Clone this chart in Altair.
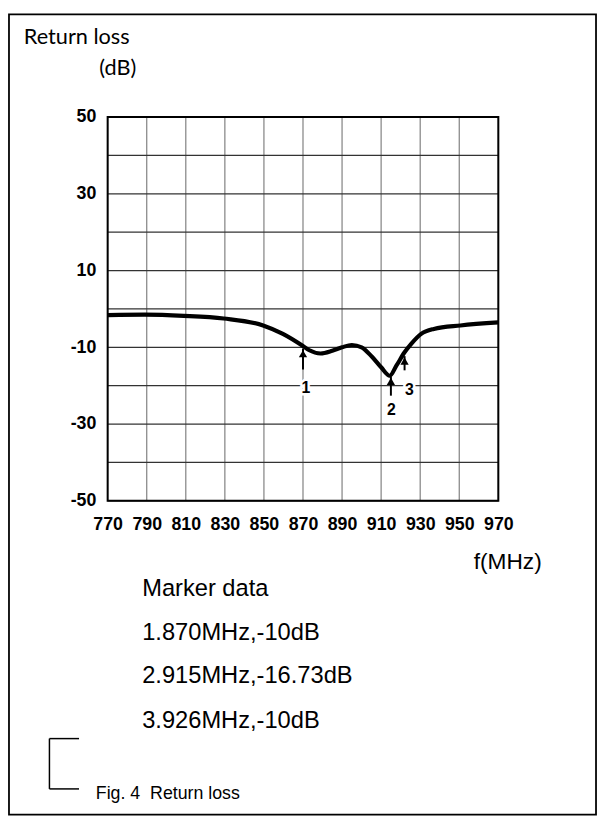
import altair as alt
import pandas as pd

# ---- data ----
freq_mhz = [770, 789, 809, 829.4, 849.6, 859.7, 869.8, 873, 879, 885, 890, 895,
            900, 905.2, 910, 914.4, 917.8, 922, 925.4, 930.5, 937, 950.6, 970]
return_loss_db = [-1.6, -1.5, -1.8, -2.5, -4.3, -6.5, -9.6, -10.7, -11.6, -10.9, -10.0, -9.4,
                  -10.0, -12.4, -15.2, -17.4, -14.8, -11.3, -9.1, -6.5, -5.2, -4.3, -3.5]

marker_freq = [870, 915, 922]
marker_tip = [-10.4, -17.6, -12.3]
marker_tail = [-15.8, -22.6, -16.0]
marker_label = ["1", "2", "3"]
label_freq = [871.5, 915.3, 924.5]
label_db = [-20.7, -26.3, -21.2]

x_ticks = [770, 790, 810, 830, 850, 870, 890, 910, 930, 950, 970]
y_ticks = [-50, -40, -30, -20, -10, 0, 10, 20, 30, 40, 50]

y_title_lines = ["Return loss", "(dB)"]
x_title = "f(MHz)"
marker_lines = ["Marker data", "1.870MHz,-10dB", "2.915MHz,-16.73dB", "3.926MHz,-10dB"]
caption = "Fig. 4\u00a0 Return loss"

W, H = 396, 389
SANS = "Liberation Sans"

curve_df = pd.DataFrame({"f": freq_mhz, "rl": return_loss_db})
mk_df = pd.DataFrame({"f": marker_freq, "tip": marker_tip, "tail": marker_tail})
lab_df = pd.DataFrame({"f": label_freq, "db": label_db, "t": marker_label})
xg_df = pd.DataFrame({"f": x_ticks})
yg_df = pd.DataFrame({"db": y_ticks})

xscale = alt.Scale(domain=[770, 970], nice=False, zero=False)
yscale = alt.Scale(domain=[-50, 50], nice=False, zero=False)

xaxis = alt.Axis(values=x_ticks, tickCount=30, title=None, grid=False, ticks=False, domain=False,
                 labelFont=SANS, labelFontWeight="bold", labelOverlap=False,
                 labelFontSize=18, labelColor="black", labelPadding=15, labelFlush=False,
                 labelExpr="toString(datum.value)")
yaxis = alt.Axis(values=y_ticks, tickCount=30, title=None, grid=False, ticks=False, domain=False,
                 labelFont=SANS, labelFontWeight="bold", labelOverlap=False,
                 labelFontSize=18, labelColor="black", labelPadding=12, labelFlush=False,
                 labelExpr="abs(datum.value) % 20 == 10 ? toString(datum.value) : ''")

vgrid = alt.Chart(xg_df).mark_rule(color="#8a8a8a", strokeWidth=1.3).encode(
    x=alt.X("f:Q", scale=xscale, axis=xaxis))
hgrid = alt.Chart(yg_df).mark_rule(color="#333333", strokeWidth=1.3).encode(
    y=alt.Y("db:Q", scale=yscale, axis=yaxis))

curve = alt.Chart(curve_df).mark_line(color="black", strokeWidth=4.2, interpolate="monotone").encode(
    x=alt.X("f:Q", scale=xscale), y=alt.Y("rl:Q", scale=yscale))

arrow_shaft = alt.Chart(mk_df).mark_rule(color="black", strokeWidth=2).encode(
    x=alt.X("f:Q", scale=xscale), y=alt.Y("tail:Q", scale=yscale), y2="tip:Q")
arrow_head = alt.Chart(mk_df).mark_point(shape="triangle-up", filled=True, color="black",
                                          size=70, opacity=1, yOffset=5).encode(
    x=alt.X("f:Q", scale=xscale), y=alt.Y("tip:Q", scale=yscale))

lab_halo = alt.Chart(lab_df).mark_text(font=SANS, fontWeight="bold", fontSize=16, stroke="white",
                                        strokeWidth=5, color="white").encode(
    x=alt.X("f:Q", scale=xscale), y=alt.Y("db:Q", scale=yscale), text="t:N")
lab_text = alt.Chart(lab_df).mark_text(font=SANS, fontWeight="bold", fontSize=16, color="black").encode(
    x=alt.X("f:Q", scale=xscale), y=alt.Y("db:Q", scale=yscale), text="t:N")


def label(text, x, y, size, font=SANS, align="left", weight="normal"):
    return alt.Chart(pd.DataFrame({"t": [text]})).mark_text(
        font=font, fontSize=size, align=align, baseline="middle", color="black", fontWeight=weight
    ).encode(x=alt.value(x), y=alt.value(y), text="t:N")


one = pd.DataFrame({"k": [0]})

frame = alt.Chart(one).mark_rect(fillOpacity=0, stroke="black", strokeWidth=1.8).encode(
    x=alt.value(-100), x2=alt.value(495), y=alt.value(-104), y2=alt.value(707))
plot_border = alt.Chart(one).mark_rect(fillOpacity=0, stroke="black", strokeWidth=2).encode(
    x=alt.value(0), x2=alt.value(W), y=alt.value(0), y2=alt.value(H))

br_v = alt.Chart(one).mark_rule(color="black", strokeWidth=1.5).encode(
    x=alt.value(-59), y=alt.value(630), y2=alt.value(681))
br_t = alt.Chart(one).mark_rule(color="black", strokeWidth=1.5).encode(
    x=alt.value(-59), x2=alt.value(-29), y=alt.value(630))
br_b = alt.Chart(one).mark_rule(color="black", strokeWidth=1.5).encode(
    x=alt.value(-59), x2=alt.value(-29), y=alt.value(681))

texts = [
    label(y_title_lines[0], -85, -81, 22, font="Lato"),
    label(y_title_lines[1], 29, -50, 22, font="Lato", align="right"),
    label(x_title, 371, 451, 23),
    label(marker_lines[0], 35, 478, 24),
    label(marker_lines[1], 35, 523, 24),
    label(marker_lines[2], 35, 567, 24),
    label(marker_lines[3], 35, 612, 24),
    label(caption, -12, 686, 18),
]

chart = alt.layer(
    vgrid, hgrid, curve, arrow_shaft, arrow_head, lab_halo, lab_text, plot_border, frame,
    br_v, br_t, br_b, *texts
).properties(
    width=W, height=H,
    autosize=alt.AutoSizeParams(type="none"),
    padding={"left": 101, "top": 105, "right": 100, "bottom": 319},
    background="white",
).configure_view(stroke=None)

chart.save("out.html", embed_options={"renderer": "svg", "actions": False})
